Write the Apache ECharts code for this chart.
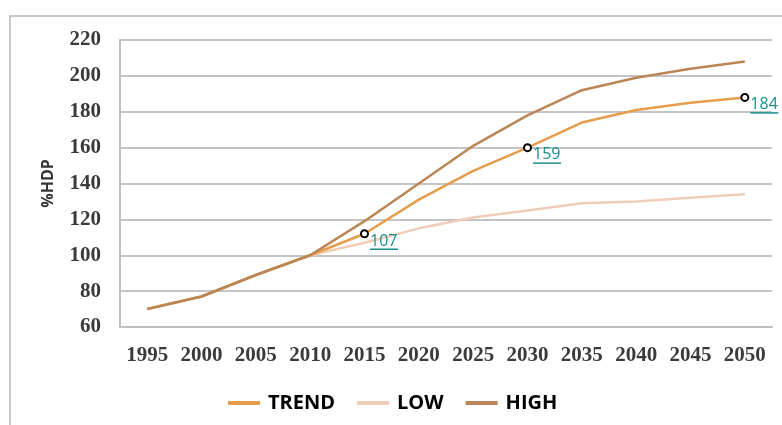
<!DOCTYPE html>
<html><head><meta charset="utf-8">
<script src="https://cdn.jsdelivr.net/npm/echarts@6/dist/echarts.min.js"></script>
<style>html,body{margin:0;padding:0;background:#fff}#c{width:782px;height:425px}</style>
</head><body><div id="c"></div>
<script>
const years = ['1995','2000','2005','2010','2015','2020','2025','2030','2035','2040','2045','2050'];
const trend = [70, 77, 89, 100, 112, 131, 147, 160, 174, 181, 185, 188];
const low   = [70, 77, 89, 100, 107, 115, 121, 125, 129, 130, 132, 134];
const high  = [70, 77, 89, 100, 119, 140, 161, 178, 192, 199, 204, 208];
const noteYears = ['2015', '2030', '2050'];
const noteLabels = [107, 159, 184];
const yTicks = {min: 60, max: 220, interval: 20};

const chart = echarts.init(document.getElementById('c'));
const labelFont = {fontFamily: 'Liberation Serif', fontWeight: 'bold', fontSize: 21, color: '#3a3a3a'};
chart.setOption({
  animation: false,
  graphic: [{type: 'rect', shape: {x: 10, y: 16, width: 800, height: 440}, style: {fill: 'none', stroke: '#c9c9c9', lineWidth: 2}, silent: true}],
  grid: {left: 120, right: 10, top: 40, bottom: 98},
  legend: {
    left: 223, top: 388, itemWidth: 32, itemHeight: 4, itemGap: 22, icon: 'rect',
    textStyle: {fontFamily: 'Open Sans', fontWeight: 'bold', fontSize: 20, color: '#000', padding: [0, 0, 0, 3]},
    data: ['TREND', 'LOW', 'HIGH']
  },
  xAxis: {
    type: 'category', data: years, boundaryGap: true,
    axisLine: {show: true, lineStyle: {color: '#c0c0c0', width: 2}},
    axisTick: {show: false},
    axisLabel: Object.assign({margin: 18, interval: 0}, labelFont)
  },
  yAxis: {
    type: 'value', min: yTicks.min, max: yTicks.max, interval: yTicks.interval,
    name: '%HDP', nameLocation: 'middle', nameGap: 64, nameRotate: 90,
    nameTextStyle: {fontFamily: 'Open Sans', fontWeight: 'bold', fontSize: 16, color: '#333'},
    axisLine: {show: true, lineStyle: {color: '#c0c0c0', width: 2}},
    axisTick: {show: false},
    axisLabel: Object.assign({margin: 19}, labelFont),
    splitLine: {lineStyle: {color: '#c4c4c4', width: 2}}
  },
  series: [
    {name: 'LOW', type: 'line', data: low, symbol: 'none', itemStyle: {color: '#f0cdb6'}, lineStyle: {width: 2.5, color: '#f0cdb6'}, z: 2},
    {name: 'TREND', type: 'line', data: trend, symbol: 'none', itemStyle: {color: '#e69d4c'}, lineStyle: {width: 2.5, color: '#e69d4c'}, z: 3,
      markPoint: {
        symbol: 'circle', symbolSize: 7,
        itemStyle: {color: '#fff', borderColor: '#000', borderWidth: 2},
        label: {
          show: true, position: 'right', distance: 1, offset: [0, 8],
          formatter: p => '{a|' + p.value + '}\n{u|}',
          rich: {
            a: {fontFamily: 'Open Sans', fontSize: 16, color: '#1a8f8f', lineHeight: 15},
            u: {width: 28, height: 1.5, backgroundColor: '#1a8f8f'}
          }
        },
        data: noteYears.map((y, i) => ({coord: [y, trend[years.indexOf(y)]], value: noteLabels[i]}))
      }
    },
    {name: 'HIGH', type: 'line', data: high, symbol: 'none', itemStyle: {color: '#bb8656'}, lineStyle: {width: 2.5, color: '#bb8656'}, z: 4}
  ]
});
</script></body></html>
